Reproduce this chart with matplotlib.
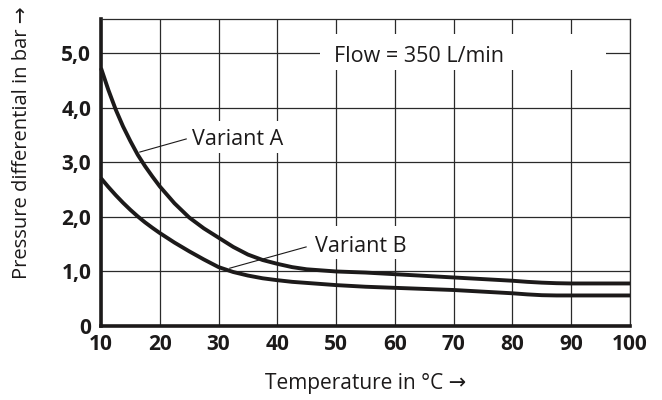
import matplotlib
matplotlib.use("Agg")
import matplotlib.pyplot as plt
from matplotlib import font_manager
from matplotlib.patches import Rectangle

# ---- data ----
temp_a = [10, 11.25, 12.5, 13.75, 15, 16.25, 17.5, 18.75, 20, 22.5, 25, 27.5, 30, 32.5, 35, 37.5, 40, 42.5, 45, 47.5, 50,
          55, 60, 65, 70, 75, 80, 82.5, 85, 87.5, 90, 95, 100]
variant_a = [4.73, 4.33, 3.97, 3.66, 3.39, 3.14, 2.93, 2.74, 2.56, 2.25, 1.99, 1.79, 1.62, 1.45, 1.31, 1.21, 1.14, 1.08, 1.04, 1.02, 1.00,
             0.98, 0.95, 0.92, 0.89, 0.86, 0.83, 0.81, 0.795, 0.785, 0.78, 0.78, 0.78]
temp_b = [10, 11.25, 12.5, 13.75, 15, 16.25, 17.5, 18.75, 20, 22.5, 25, 27.5, 30, 32.5, 35, 37.5, 40, 42.5, 45, 50,
          55, 60, 65, 70, 75, 80, 82.5, 85, 87.5, 90, 95, 100]
variant_b = [2.71, 2.55, 2.40, 2.26, 2.13, 2.01, 1.90, 1.80, 1.705, 1.53, 1.37, 1.22, 1.08, 0.99, 0.925, 0.875, 0.84, 0.81, 0.79, 0.75,
             0.72, 0.70, 0.68, 0.66, 0.63, 0.60, 0.58, 0.565, 0.56, 0.56, 0.56, 0.56]
x_ticks = [10, 20, 30, 40, 50, 60, 70, 80, 90, 100]
y_ticks = [0, 1, 2, 3, 4, 5]
y_tick_labels = ["0", "1,0", "2,0", "3,0", "4,0", "5,0"]
label_a = "Variant A"
label_b = "Variant B"
flow_label = "Flow = 350 L/min"
x_label = "Temperature in °C →"
y_label = "Pressure differential in bar →"


def pick(fams):
    for f in fams:
        try:
            font_manager.findfont(f, fallback_to_default=False)
            return f
        except Exception:
            pass
    return "DejaVu Sans"


main_font = pick(["Liberation Sans Narrow", "Open Sans", "Roboto"])
plt.rcParams['font.family'] = [main_font, 'DejaVu Sans']

ink = "#1c1a1a"
fig = plt.figure(figsize=(6.62, 4.00), dpi=100)
ax = fig.add_axes([101 / 662, 1 - 326 / 400, (630 - 101) / 662, (326 - 19) / 400])
ax.set_xlim(10, 100)
ax.set_ylim(0, 5.63)

ax.set_xticks(x_ticks)
ax.set_yticks(y_ticks)
ax.set_yticklabels(y_tick_labels)
ax.tick_params(length=0, labelsize=15, colors=ink)
ax.tick_params(axis="x", pad=6)
ax.tick_params(axis="y", pad=7)
for lab in ax.get_xticklabels() + ax.get_yticklabels():
    lab.set_fontweight("bold")

ax.grid(True, color="#2a2a2a", linewidth=0.9, zorder=1)
ax.set_axisbelow(True)

for side in ("left", "bottom"):
    ax.spines[side].set_linewidth(2.6)
    ax.spines[side].set_color(ink)
for side in ("top", "right"):
    ax.spines[side].set_linewidth(0.9)
    ax.spines[side].set_color("#2a2a2a")

# white boxes behind labels (interrupting the grid)
for (x0, x1, y0, y1) in [(47.2, 96.0, 4.70, 5.36), (24.3, 40.8, 3.17, 3.76), (45.5, 61.2, 1.23, 1.83)]:
    ax.add_patch(Rectangle((x0, y0), x1 - x0, y1 - y0, facecolor="white", edgecolor="none", zorder=2))

ax.plot(temp_a, variant_a, color=ink, linewidth=2.8, zorder=4, solid_capstyle="butt",
        solid_joinstyle="round", clip_on=False)
ax.plot(temp_b, variant_b, color=ink, linewidth=2.8, zorder=4, solid_capstyle="butt",
        solid_joinstyle="round", clip_on=False)

ax.plot([24.5, 16.6], [3.43, 3.19], color=ink, linewidth=0.8, zorder=3)
ax.plot([44.9, 31.9], [1.45, 1.06], color=ink, linewidth=0.8, zorder=3)

ax.text(25.4, 3.32, label_a, fontsize=15.5, color=ink, ha="left", va="baseline", zorder=5)
ax.text(46.4, 1.36, label_b, fontsize=15.5, color=ink, ha="left", va="baseline", zorder=5)
ax.text(49.6, 4.84, flow_label, fontsize=15.5, color=ink, ha="left", va="baseline", zorder=5)

fig.text(365.5 / 662, 1 - 383 / 400, x_label, fontsize=15, color=ink, ha="center", va="center")
fig.text(22 / 662, 1 - 143 / 400, y_label, fontsize=14.5, color=ink, ha="center", va="center", rotation=90)

fig.savefig("out.png", dpi=100, facecolor="white")
